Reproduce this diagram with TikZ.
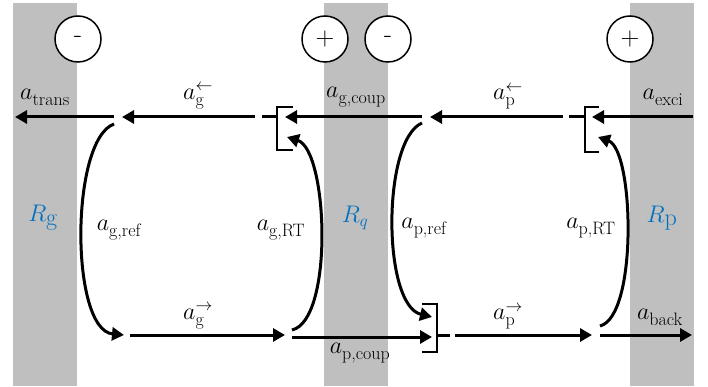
\RequirePackage{fix-cm}
\documentclass[tikz,border=0pt]{standalone}
\usetikzlibrary{arrows.meta}
\definecolor{wall}{RGB}{191,191,191}
\definecolor{rblue}{RGB}{0,112,192}
\newcommand{\subf}{\fontsize{18}{21}\selectfont}
\newcommand{\amp}[2]{$a^{#2}_{\mbox{\subf #1}}$}
\tikzset{
  wave/.style  = {line width=3pt, -{Triangle[length=12pt,width=13pt]}},
  plain/.style = {line width=3pt},
  brk/.style   = {line width=2pt},
  sgn/.style   = {circle, draw, line width=1.5pt, fill=white, minimum size=46pt, inner sep=0, font=\fontsize{26}{30}\selectfont},
  lbl/.style   = {font=\fontsize{24}{28}\selectfont, inner sep=1pt},
  res/.style   = {lbl, text=rblue}
}

\begin{document}
\begin{tikzpicture}[x=1pt,y=-1pt]
  \useasboundingbox (0,0) rectangle (708,387);
  % walls
  \fill[wall] (13,3) rectangle (77,386);
  \fill[wall] (324,3) rectangle (388,386);
  \fill[wall] (630,3) rectangle (694,386);
  \node[sgn] (s1) at (78,39)  {-};
  \node[sgn] (s2) at (325,39) {+};
  \node[sgn] (s3) at (388,39) {-};
  \node[sgn] (s4) at (630,39) {+};
  \node[res] (Rg) at (43,218)  {$R_{\mbox{g}}$};
  \node[res] (Rq) at (355,218) {$R_q$};
  \node[res] (Rp) at (662,218) {$R_{\mbox{p}}$};

  % points on the top row (waves to the left)
  \coordinate (u0) at (15,117);  \coordinate (u1) at (114,117);
  \coordinate (u2) at (122,117); \coordinate (u3) at (255,117);
  \coordinate (u4) at (262,117); \coordinate (u5) at (277,117);
  \coordinate (u6) at (285,117); \coordinate (u7) at (422,117);
  \coordinate (u8) at (430,117); \coordinate (u9) at (563,117);
  \coordinate (u10) at (569,117); \coordinate (u11) at (585,117);
  \coordinate (u12) at (592,117); \coordinate (u13) at (693,117);
  % points on the bottom row (waves to the right)
  \coordinate (d1) at (124,335); \coordinate (d2) at (130,335);
  \coordinate (d3) at (285,335); \coordinate (d4) at (437,335);
  \coordinate (d5) at (450,335); \coordinate (d6) at (455,335);
  \coordinate (d7) at (592,335); \coordinate (d8) at (600,335);
  \coordinate (d9) at (692,335);
  \coordinate (c1) at (292,337); \coordinate (c2) at (432,337);

  \draw[wave]  (u1) -- (u0);
  \draw[wave]  (u3) -- (u2);
  \draw[plain] (u4) -- (u5);
  \draw[wave]  (u7) -- (u6);
  \draw[wave]  (u9) -- (u8);
  \draw[plain] (u10) -- (u11);
  \draw[wave]  (u13) -- (u12);
  \draw[wave]  (d2) -- (d3);
  \draw[wave]  (c1) -- (c2);
  \draw[plain] (d4) -- (d5);
  \draw[wave]  (d6) -- (d7);
  \draw[wave]  (d8) -- (d9);

  % reflections and round trips
  \draw[wave] (114,124) .. controls (70,140) and (70,330) .. (d1);
  \draw[wave] (292,330) .. controls (334,320) and (328,150) .. (287,137);
  \draw[wave] (422,123) .. controls (382,140) and (382,305) .. (432,317);
  \draw[wave] (600,326) .. controls (638,316) and (634,150) .. (598,137);

  % brackets
  \draw[brk] (293,107) -| (277,150) -- (293,150);
  \draw[brk] (599,107) -| (585,152) -- (599,152);
  \draw[brk] (422,304) -| (437,352) -- (422,352);

  % labels
  \node[lbl] (ltr) at (45,97)   {\amp{trans}{}};
  \node[lbl] (lgl) at (198,97)  {\amp{g}{\leftarrow}};
  \node[lbl] (lgc) at (356,97)  {\amp{g,coup}{}};
  \node[lbl] (lpl) at (508,97)  {\amp{p}{\leftarrow}};
  \node[lbl] (lex) at (663,97)  {\amp{exci}{}};
  \node[lbl] (lgr) at (119,230) {\amp{g,ref}{}};
  \node[lbl] (lgt) at (281,230) {\amp{g,RT}{}};
  \node[lbl] (lpr) at (424,228) {\amp{p,ref}{}};
  \node[lbl] (lpt) at (591,228) {\amp{p,RT}{}};
  \node[lbl] (lgr2) at (198,317) {\amp{g}{\rightarrow}};
  \node[lbl] (lpr2) at (508,317) {\amp{p}{\rightarrow}};
  \node[lbl] (lbk) at (660,317) {\amp{back}{}};
  \node[lbl] (lpc) at (360,353) {\amp{p,coup}{}};
\end{tikzpicture}
\end{document}
